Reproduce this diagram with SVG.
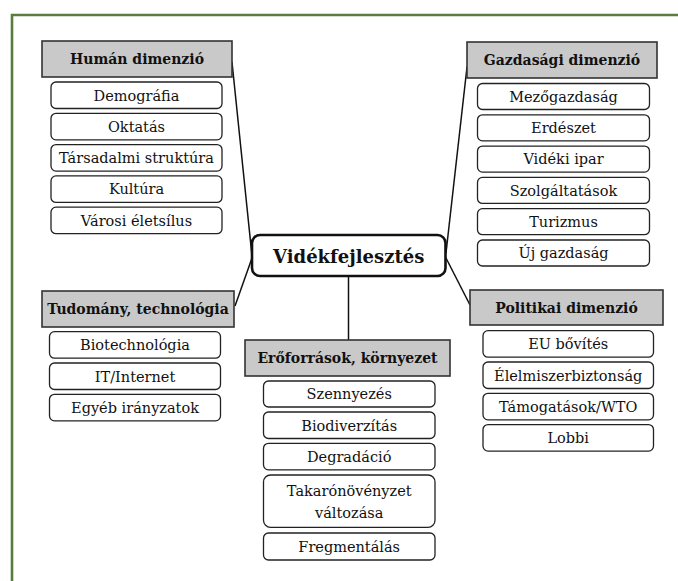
<svg xmlns="http://www.w3.org/2000/svg" width="678" height="581" viewBox="0 0 678 581">
<style>
text{fill:#111;text-anchor:middle;font-family:'DejaVu Serif','Liberation Serif',serif}
.hd rect{fill:#c9c9c9;stroke:#333;stroke-width:1.6}
.hd text{font-weight:bold;font-size:14px}
.it rect{fill:#fff;stroke:#222;stroke-width:1.3}
.it text{font-size:14.5px}
.conn line{stroke:#111;stroke-width:1.5}
</style>
<rect width="678" height="581" fill="#fff"/>
<path d="M12 581V15H678" fill="none" stroke="#5a7d3c" stroke-width="2.6"/>
<g class="conn" id="connectors">
<line x1="232" y1="62" x2="252" y2="256"/>
<line x1="467" y1="67" x2="446" y2="253"/>
<line x1="235" y1="306" x2="252" y2="258"/>
<line x1="446" y1="258" x2="470" y2="305"/>
<line x1="348.5" y1="276" x2="348.5" y2="340"/>
</g>
<g id="center">
<rect x="252" y="235" width="193.5" height="41" rx="8" fill="#fff" stroke="#111" stroke-width="2.6"/>
<text x="348.7" y="262.5" font-size="18" font-weight="bold">Vidékfejlesztés</text>
</g>
<g id="human">
<g class="hd"><rect x="42" y="41" width="190" height="36"/><text x="137" y="64">Humán dimenzió</text></g>
<g class="it">
<rect x="51" y="82" width="171" height="26.5" rx="5"/><text x="136.5" y="100.5">Demográfia</text>
<rect x="51" y="113.3" width="171" height="26.5" rx="5"/><text x="136.5" y="131.8">Oktatás</text>
<rect x="51" y="144.6" width="171" height="26.5" rx="5"/><text x="136.5" y="163.1">Társadalmi struktúra</text>
<rect x="51" y="175.9" width="171" height="26.5" rx="5"/><text x="136.5" y="194.4">Kultúra</text>
<rect x="51" y="207.2" width="171" height="26.5" rx="5"/><text x="136.5" y="225.7">Városi életsílus</text>
</g>
</g>
<g id="gazdasagi">
<g class="hd"><rect x="467" y="42" width="190" height="36"/><text x="562" y="65">Gazdasági dimenzió</text></g>
<g class="it">
<rect x="477.5" y="83.5" width="172" height="26" rx="5"/><text x="563.5" y="101.8">Mezőgazdaság</text>
<rect x="477.5" y="114.8" width="172" height="26" rx="5"/><text x="563.5" y="133.1">Erdészet</text>
<rect x="477.5" y="146.1" width="172" height="26" rx="5"/><text x="563.5" y="164.4">Vidéki ipar</text>
<rect x="477.5" y="177.4" width="172" height="26" rx="5"/><text x="563.5" y="195.7">Szolgáltatások</text>
<rect x="477.5" y="208.7" width="172" height="26" rx="5"/><text x="563.5" y="227">Turizmus</text>
<rect x="477.5" y="240" width="172" height="26" rx="5"/><text x="563.5" y="258.3">Új gazdaság</text>
</g>
</g>
<g id="tudomany">
<g class="hd"><rect x="42" y="291" width="192" height="36"/><text x="138" y="314">Tudomány, technológia</text></g>
<g class="it">
<rect x="49.5" y="331.7" width="171" height="26.5" rx="5"/><text x="135" y="350.2">Biotechnológia</text>
<rect x="49.5" y="363" width="171" height="26.5" rx="5"/><text x="135" y="381.5">IT/Internet</text>
<rect x="49.5" y="394.3" width="171" height="26.5" rx="5"/><text x="135" y="412.8">Egyéb irányzatok</text>
</g>
</g>
<g id="eroforrasok">
<g class="hd"><rect x="245" y="340" width="205" height="36"/><text x="347.5" y="363">Erőforrások, környezet</text></g>
<g class="it">
<rect x="263.5" y="381" width="171.5" height="26" rx="5"/><text x="349.2" y="399.3">Szennyezés</text>
<rect x="263.5" y="412" width="171.5" height="26.5" rx="5"/><text x="349.2" y="430.5">Biodiverzítás</text>
<rect x="263.5" y="443.3" width="171.5" height="26.5" rx="5"/><text x="349.2" y="461.8">Degradáció</text>
<rect x="263.5" y="475" width="171.5" height="52.3" rx="7"/><text x="349.2" y="496.2">Takarónövényzet</text><text x="349.2" y="517.8">változása</text>
<rect x="263.5" y="533" width="171.5" height="27" rx="5"/><text x="349.2" y="551.8">Fregmentálás</text>
</g>
</g>
<g id="politikai">
<g class="hd"><rect x="470" y="290" width="193" height="35"/><text x="566.5" y="312.7">Politikai dimenzió</text></g>
<g class="it">
<rect x="483" y="330.7" width="170.5" height="26.5" rx="5"/><text x="568.2" y="349.2">EU bővítés</text>
<rect x="483" y="362" width="170.5" height="26.5" rx="5"/><text x="568.2" y="380.5">Élelmiszerbiztonság</text>
<rect x="483" y="393.3" width="170.5" height="26.5" rx="5"/><text x="568.2" y="411.8">Támogatások/WTO</text>
<rect x="483" y="424.6" width="170.5" height="26.5" rx="5"/><text x="568.2" y="443.1">Lobbi</text>
</g>
</g>
</svg>
